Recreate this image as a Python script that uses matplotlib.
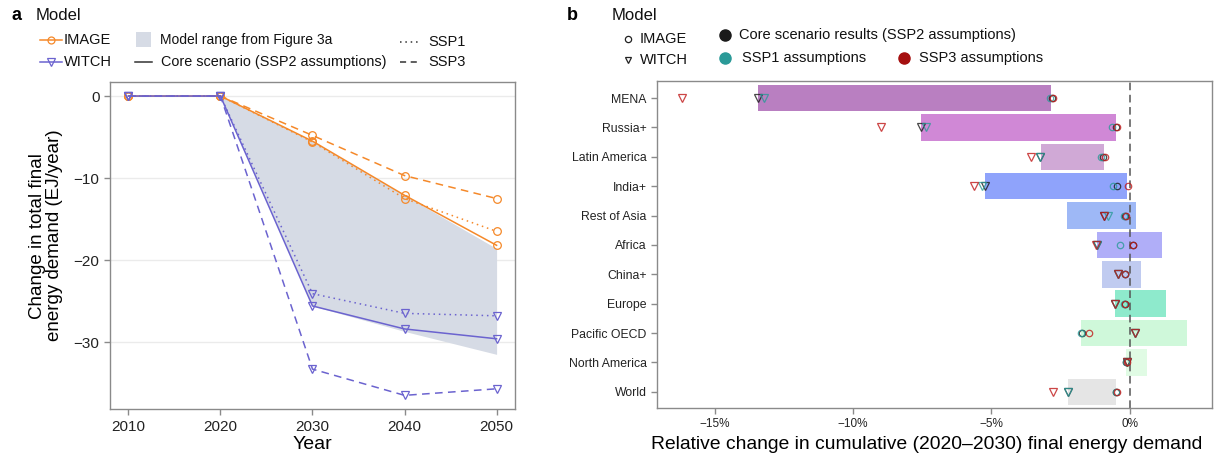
import matplotlib
matplotlib.use('Agg')
import matplotlib.pyplot as plt
from matplotlib.lines import Line2D
from matplotlib.patches import Rectangle

plt.rcParams['font.family'] = ['Liberation Sans', 'DejaVu Sans']

# ---- panel a data (EJ/year, change vs. baseline) ----
years = [2010, 2020, 2030, 2040, 2050]
image_ssp2 = [0, 0, -5.5, -12.1, -18.2]
image_ssp1 = [0, 0, -5.6, -12.5, -16.5]
image_ssp3 = [0, 0, -4.8, -9.7, -12.5]
witch_ssp2 = [0, 0, -25.6, -28.4, -29.6]
witch_ssp1 = [0, 0, -24.1, -26.5, -26.8]
witch_ssp3 = [0, 0, -33.3, -36.5, -35.7]
range_years = [2020, 2030, 2040, 2050]
range_upper = [0, -5.5, -12.1, -18.6]
range_lower = [0, -25.6, -28.7, -31.5]

# ---- panel b data (% change in cumulative 2020-2030 final energy) ----
regions = ['MENA', 'Russia+', 'Latin America', 'India+', 'Rest of Asia', 'Africa',
           'China+', 'Europe', 'Pacific OECD', 'North America', 'World']
bar_lo = [-13.42, -7.55, -3.21, -5.21, -2.25, -1.19, -1.0, -0.52, -1.74, -0.12, -2.21]
bar_hi = [-2.83, -0.48, -0.94, -0.11, 0.24, 1.18, 0.43, 1.33, 2.07, 0.63, -0.48]
bar_colors = ['#b97fc1', '#d088d6', '#d0a9d6', '#8fa3fb', '#9eb8f6', '#b0aef8',
              '#c0cbf0', '#8eeacc', '#cff8da', '#e0fbe4', '#e5e5e5']
img_ssp2 = [-2.82, -0.48, -0.95, -0.47, -0.16, 0.12, -0.17, -0.18, -1.73, -0.12, -0.48]
img_ssp1 = [-2.86, -0.63, -1.02, -0.61, -0.20, -0.34, -0.18, -0.20, -1.75, -0.12, -0.50]
img_ssp3 = [-2.76, -0.44, -0.89, -0.07, -0.13, 0.12, -0.15, -0.17, -1.48, -0.10, -0.44]
wit_ssp2 = [-13.44, -7.55, -3.22, -5.21, -0.92, -1.18, -0.40, -0.53, 0.18, -0.11, -2.22]
wit_ssp1 = [-13.22, -7.36, -3.22, -5.33, -0.78, -1.18, -0.40, -0.53, 0.18, -0.11, -2.22]
wit_ssp3 = [-16.17, -9.00, -3.55, -5.63, -0.94, -1.20, -0.41, -0.53, 0.18, -0.11, -2.77]
xticks_b = [-15, -10, -5, 0]
xtick_labels_b = ['\u221215%', '\u221210%', '\u22125%', '0%']

C_IMAGE = '#f5892a'
C_WITCH = '#6b63cf'
C_RANGE = '#d6dbe5'
C_CORE = '#1a1a1a'
C_SSP1 = '#2a9a98'
C_SSP3 = '#a50f0f'
SPINE = '#8a8a8a'
DASHED = (0, (5, 3.5))
DOTTED = (0, (1, 2.5))

W, H = 1214, 459
fig = plt.figure(figsize=(W / 100, H / 100), dpi=100)


def fx(x):
    return x / W


def fy(y):
    return 1 - y / H


def style_axes(ax):
    for s in ax.spines.values():
        s.set_color(SPINE)
        s.set_linewidth(1.0)
    ax.tick_params(color=SPINE, length=4, width=1, labelcolor='#222222')


# ================= panel a =================
ax1 = fig.add_axes([fx(110), fy(409.3), fx(515) - fx(110), fy(81.7) - fy(409.3)])
style_axes(ax1)
ax1.fill_between(range_years, range_lower, range_upper, color=C_RANGE, lw=0, zorder=1)
for vals, ls in [(image_ssp1, DOTTED), (image_ssp3, DASHED), (image_ssp2, '-')]:
    ax1.plot(years, vals, color=C_IMAGE, ls=ls, lw=1.1, marker='o', ms=5.5,
             mfc='none', mec=C_IMAGE, mew=0.9, zorder=3)
for vals, ls in [(witch_ssp1, DOTTED), (witch_ssp3, DASHED), (witch_ssp2, '-')]:
    ax1.plot(years, vals, color=C_WITCH, ls=ls, lw=1.1, marker='v', ms=6,
             mfc='none', mec=C_WITCH, mew=0.9, zorder=3)
ax1.set_xlim(2008, 2052)
ax1.set_ylim(-38.2, 1.75)
ax1.set_xticks(years)
ax1.set_yticks([0, -10, -20, -30])
ax1.set_yticklabels(['0', '\u221210', '\u221220', '\u221230'])
ax1.yaxis.grid(True, color='#ebebeb', lw=1.0, zorder=0)
ax1.set_axisbelow(True)
ax1.tick_params(labelsize=11)
ax1.set_xlabel('Year', fontsize=14, labelpad=2)
ax1.set_ylabel('Change in total final\nenergy demand (EJ/year)', fontsize=13.5,
               linespacing=1.05)
ax1.yaxis.set_label_coords(-0.115, 0.53)

# ================= panel b =================
ax2 = fig.add_axes([fx(657), fy(408), fx(1212) - fx(657), fy(81) - fy(408)])
style_axes(ax2)
ypos = list(range(len(regions)))
ax2.barh(ypos, [h - l for l, h in zip(bar_lo, bar_hi)], left=bar_lo, height=0.9,
         color=bar_colors, zorder=1)
ax2.axvline(0, color='#555555', ls=(0, (5, 3)), lw=1.1, zorder=2)
mk = dict(ls='none', mfc='none', mew=0.9, alpha=0.8, zorder=3)
for vals, c in [(wit_ssp2, C_CORE), (wit_ssp1, C_SSP1), (wit_ssp3, '#c01818')]:
    ax2.plot(vals, ypos, marker='v', ms=5.5, mec=c, **mk)
for vals, c in [(img_ssp2, C_CORE), (img_ssp1, C_SSP1), (img_ssp3, '#c01818')]:
    ax2.plot(vals, ypos, marker='o', ms=4.6, mec=c, **mk)
ax2.set_ylim(len(regions) - 1 + 0.55, -0.58)
ax2.set_yticks(ypos)
ax2.set_yticklabels(regions, fontsize=8.8)
ax2.set_xlim(-17.08, 2.98)
ax2.set_xticks(xticks_b)
ax2.set_xticklabels(xtick_labels_b, fontsize=8.5)
ax2.set_xlabel('Relative change in cumulative (2020\u20132030) final energy demand',
               fontsize=13.9, labelpad=5)
ax2.xaxis.set_label_coords(0.486, -0.085)


# ================= legends (figure coordinates, pixels) =================
def key_line(x0, x1, y, color, ls='-', marker=None, ms=5, lw=1.1):
    fig.add_artist(Line2D([fx(x0), fx(x1)], [fy(y), fy(y)], transform=fig.transFigure,
                          color=color, ls=ls, lw=lw))
    if marker:
        fig.add_artist(Line2D([fx((x0 + x1) / 2)], [fy(y)], transform=fig.transFigure,
                              marker=marker, ms=ms, mfc='none', mec=color, mew=0.9,
                              ls='none'))


def key_text(x, y, s, size=10.5, **kw):
    fig.text(fx(x), fy(y), s, fontsize=size, va='center', ha='left', color='#111111', **kw)


# panel a legend
fig.text(fx(11), fy(16), 'a', fontsize=13, fontweight='bold', va='center')
key_text(36, 16, 'Model', size=12)
key_line(40, 62, 40, C_IMAGE, marker='o', ms=5)
key_text(64, 40, 'IMAGE')
key_line(40, 62, 62, C_WITCH, marker='v', ms=5.5)
key_text(64, 62, 'WITCH')
fig.add_artist(Rectangle((fx(136), fy(47)), fx(151) - fx(136), fy(32) - fy(47),
                         transform=fig.transFigure, color=C_RANGE, lw=0))
key_text(160, 40, 'Model range from Figure 3a', size=10)
key_line(135, 152, 62, '#333333')
key_text(161, 62, 'Core scenario (SSP2 assumptions)', size=10.4)
key_line(400, 418, 42, '#333333', ls=DOTTED)
key_text(428, 42, 'SSP1')
key_line(400, 418, 62, '#333333', ls=(0, (4, 3)))
key_text(428, 62, 'SSP3')

# panel b legend
fig.text(fx(567), fy(16), 'b', fontsize=13, fontweight='bold', va='center')
key_text(612, 16, 'Model', size=12)
fig.add_artist(Line2D([fx(628)], [fy(39)], transform=fig.transFigure, marker='o', ms=4.5,
                      mfc='none', mec='#222222', mew=0.9, ls='none'))
key_text(640, 39, 'IMAGE')
fig.add_artist(Line2D([fx(628)], [fy(60)], transform=fig.transFigure, marker='v', ms=5,
                      mfc='none', mec='#222222', mew=0.9, ls='none'))
key_text(640, 60, 'WITCH')
for (x, y, c) in [(725, 35, C_CORE), (725, 58, C_SSP1), (904, 58, C_SSP3)]:
    fig.add_artist(Line2D([fx(x)], [fy(y)], transform=fig.transFigure, marker='o',
                          ms=8, mfc=c, mec=c, ls='none'))
key_text(739, 35, 'Core scenario results (SSP2 assumptions)')
key_text(742, 58, 'SSP1 assumptions')
key_text(919, 58, 'SSP3 assumptions')

fig.savefig('out.png', dpi=100)
